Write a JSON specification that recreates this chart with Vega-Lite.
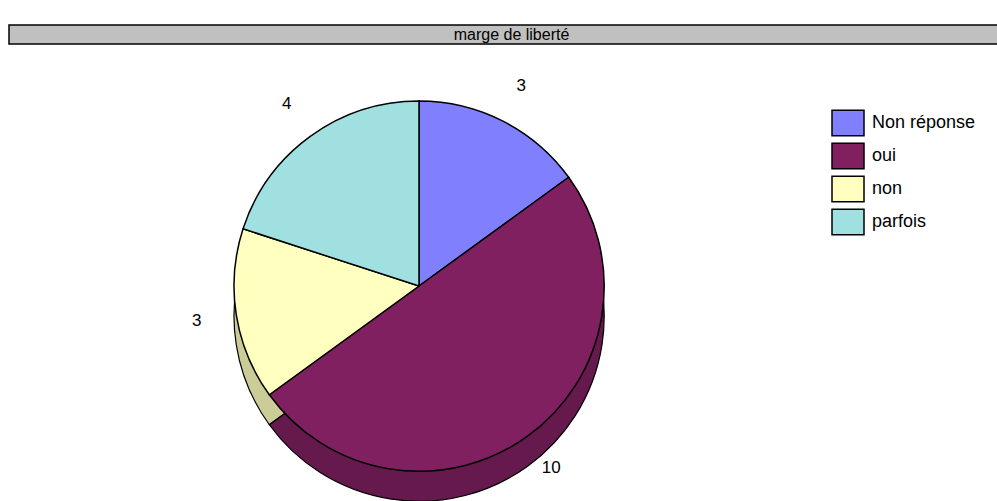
{
  "$schema": "https://vega.github.io/schema/vega-lite/v6.json",
  "padding": {"left": 8, "top": 24, "right": 0, "bottom": 0},
  "spacing": 57,
  "bounds": "flush",
  "background": "white",
  "config": {"font": "Liberation Sans", "view": {"stroke": null}},
  "resolve": {"scale": {"color": "independent"}, "legend": {"color": "independent"}},
  "datasets": {
    "reponses": [
      {"categorie": "Non réponse", "nombre": 3},
      {"categorie": "oui", "nombre": 10},
      {"categorie": "non", "nombre": 3},
      {"categorie": "parfois", "nombre": 4}
    ]
  },
  "vconcat": [
    {
      "width": 989,
      "height": 19,
      "view": {"fill": "#C0C0C0", "stroke": "#000000", "strokeWidth": 1.5},
      "data": {"values": [{"titre": "marge de liberté"}]},
      "mark": {"type": "text", "fontSize": 16, "font": "Liberation Sans", "color": "#000000", "dx": 8},
      "encoding": {"text": {"field": "titre", "type": "nominal"}}
    },
    {
      "width": 820,
      "height": 370,
      "data": {"name": "reponses"},
      "transform": [{"window": [{"op": "row_number", "as": "rang"}]}],
      "encoding": {
        "theta": {"field": "nombre", "type": "quantitative", "stack": true},
        "order": {"field": "rang", "type": "quantitative"}
      },
      "layer": [
        {
          "mark": {"type": "arc", "outerRadius": 185, "yOffset": 30},
          "encoding": {
            "color": {"field": "categorie", "type": "nominal"}
          }
        },
        {
          "mark": {"type": "arc", "outerRadius": 185, "yOffset": 30, "fill": "#000000", "fillOpacity": 0.2, "stroke": "#000000", "strokeWidth": 1.2}
        },
        {
          "mark": {"type": "arc", "outerRadius": 185, "stroke": "#000000", "strokeWidth": 1.5},
          "encoding": {
            "color": {
              "field": "categorie",
              "type": "nominal",
              "scale": {"domain": ["Non réponse", "oui", "non", "parfois"], "range": ["#8080FF", "#802060", "#FFFFC0", "#A0E0E0"]},
              "legend": {
                "orient": "right",
                "offset": -3,
                "padding": 5,
                "title": null,
                "symbolType": "M-1,-0.8L1,-0.8L1,0.8L-1,0.8Z",
                "symbolSize": 1024,
                "symbolStrokeColor": "#000000",
                "symbolStrokeWidth": 1.5,
                "symbolOpacity": 1,
                "labelFontSize": 18,
                "labelFont": "Liberation Sans",
                "labelColor": "#000000",
                "labelOffset": 7,
                "labelLimit": 300,
                "rowPadding": 0
              }
            }
          }
        },
        {
          "mark": {"type": "text", "radius": 225, "fontSize": 17, "font": "Liberation Sans", "color": "#000000"},
          "encoding": {"text": {"field": "nombre", "type": "quantitative"}}
        }
      ]
    }
  ]
}
